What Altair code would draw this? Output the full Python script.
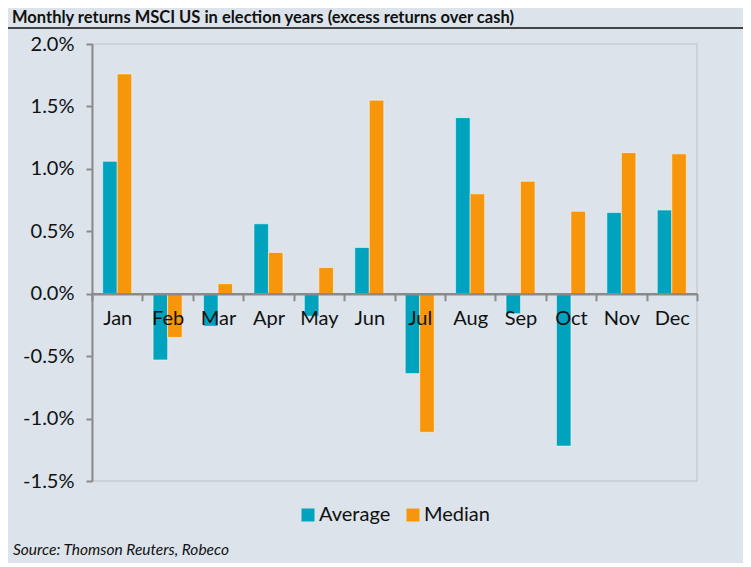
import altair as alt
import pandas as pd

months = ["Jan", "Feb", "Mar", "Apr", "May", "Jun", "Jul", "Aug", "Sep", "Oct", "Nov", "Dec"]
average = [1.06, -0.53, -0.26, 0.56, -0.18, 0.37, -0.64, 1.41, -0.16, -1.22, 0.65, 0.67]
median = [1.76, -0.35, 0.08, 0.33, 0.21, 1.55, -1.11, 0.80, 0.90, 0.66, 1.13, 1.12]
series_names = ["Average", "Median"]
y_ticks = [-1.5, -1.0, -0.5, 0.0, 0.5, 1.0, 1.5, 2.0]
title_text = "Monthly returns MSCI US in election years (excess returns over cash)"
source_text = "Source: Thomson Reuters, Robeco"

rows = []
for m, a, md in zip(months, average, median):
    rows.append({"month": m, "series": "Average", "value": a})
    rows.append({"month": m, "series": "Median", "value": md})
df = pd.DataFrame(rows)

W, H = 605, 437
BG = "#dce3ea"
FONT = "Lato"

bars = alt.Chart(df).mark_bar(stroke="white", strokeOpacity=0.5, strokeWidth=1).encode(
    x=alt.X("month:N", sort=months,
            scale=alt.Scale(paddingInner=0, paddingOuter=0),
            axis=alt.Axis(title=None, orient="bottom", offset=-(H * 1.5 / 3.5),
                          tickBand="extent", labelAngle=0, labelFont=FONT,
                          labelFontSize=20, labelColor="#111111", labelPadding=8,
                          domainColor="#8a8a8a", domainWidth=2.5,
                          tickColor="#8a8a8a", tickWidth=2, tickSize=7, zindex=1)),
    xOffset=alt.XOffset("series:N", sort=series_names,
                        scale=alt.Scale(paddingOuter=0.738, paddingInner=0)),
    y=alt.Y("value:Q", scale=alt.Scale(domain=[-1.5, 2.0], nice=False, zero=False),
            axis=alt.Axis(title=None, values=y_ticks, grid=False,
                          labelExpr="(datum.value < 0 ? '-' : '') + format(abs(datum.value), '.1f') + '%'",
                          labelFont=FONT, labelFontSize=20, labelColor="#111111",
                          labelPadding=12, domainColor="#8a8a8a", domainWidth=2,
                          tickColor="#8a8a8a", tickWidth=2, tickSize=6)),
    color=alt.Color("series:N", sort=series_names,
                    scale=alt.Scale(domain=series_names, range=["#00a3be", "#f7960b"]),
                    legend=alt.Legend(title=None, orient="none", legendX=206, legendY=461,
                                      direction="horizontal", symbolType="square",
                                      symbolSize=169, symbolStrokeWidth=0,
                                      labelFont=FONT, labelFontSize=20,
                                      labelColor="#111111", labelOffset=1,
                                      columnPadding=12)),
)

one = alt.Data(values=[{"t": title_text, "s": source_text}])

title = alt.Chart(one).mark_text(align="left", baseline="middle", font=FONT,
                                 fontSize=16.5, fontWeight="bold", color="#111111").encode(
    x=alt.value(-80), y=alt.value(-26), text="t:N")

title_rule = alt.Chart(one).mark_rule(color="#111111", strokeWidth=1.5).encode(
    x=alt.value(-84), x2=alt.value(660), y=alt.value(-16))

source = alt.Chart(one).mark_text(align="left", baseline="middle", font=FONT,
                                  fontSize=15.5, fontStyle="italic", color="#111111").encode(
    x=alt.value(-79), y=alt.value(506), text="s:N")

chart = alt.layer(bars, title_rule, title, source).properties(
    width=W, height=H,
    autosize=alt.AutoSizeParams(type="none"),
    padding={"left": 84, "top": 36, "right": 46, "bottom": 82},
    background=BG,
).configure_view(stroke="#c8cdd2", strokeWidth=1.5)

chart.save("out.html", embed_options={"renderer": "svg", "actions": False})
